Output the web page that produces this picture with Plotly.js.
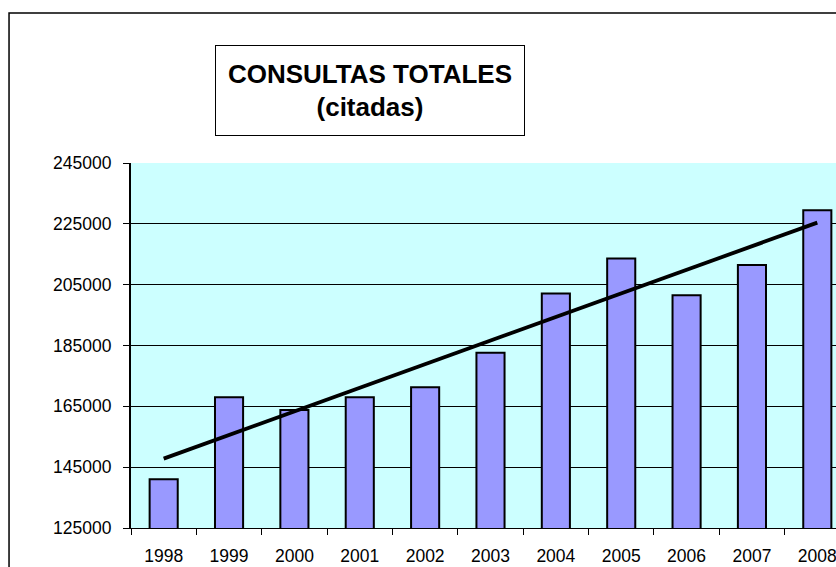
<!DOCTYPE html>
<html>
<head>
<meta charset="utf-8">
<script src="https://cdn.plot.ly/plotly-3.0.1.min.js"></script>
<style>
html,body{margin:0;padding:0;background:#fff;}
#chart{width:836px;height:567px;}
</style>
</head>
<body>
<div id="chart"></div>
<script>
const years = ["1998","1999","2000","2001","2002","2003","2004","2005","2006","2007","2008"];
const consultas = [141000,168000,163800,168000,171300,182600,202100,213600,201500,211500,229500];
const trendYears = ["1998","2008"];
const trendValues = [147800,225400];
const yTicks = [125000,145000,165000,185000,205000,225000,245000];
const titleText = "<b>CONSULTAS TOTALES<br>(citadas)</b>";

const FONT = "Liberation Sans, Arial, sans-serif";

const bars = {
  type: "bar",
  x: years,
  y: consultas,
  marker: {color: "#9999FF", line: {color: "#000000", width: 2}},
  hoverinfo: "x+y"
};
const trend = {
  type: "scatter",
  mode: "lines",
  x: trendYears,
  y: trendValues,
  line: {color: "#000000", width: 3.8},
  hoverinfo: "skip"
};

const layout = {
  width: 836,
  height: 567,
  margin: {l: 131, r: 0, t: 163, b: 39, pad: 0},
  paper_bgcolor: "#FFFFFF",
  plot_bgcolor: "#CCFFFF",
  showlegend: false,
  bargap: 0.57,
  font: {family: FONT, color: "#000000", size: 17.5},
  xaxis: {
    type: "category",
    range: [-0.5, 10.286],
    tickson: "boundaries",
    ticks: "outside",
    ticklen: 6,
    tickwidth: 1,
    tickcolor: "#000000",
    showline: true,
    linecolor: "#000000",
    linewidth: 1,
    showgrid: false,
    zeroline: false,
    ticklabelstandoff: 12,
    tickfont: {family: FONT, size: 17.5, color: "#000000"}
  },
  yaxis: {
    range: [125000, 245000],
    tickmode: "array",
    tickvals: yTicks,
    ticktext: yTicks.map(String),
    ticks: "outside",
    ticklen: 6,
    tickwidth: 1,
    tickcolor: "#000000",
    showline: true,
    linecolor: "#000000",
    linewidth: 2,
    showgrid: true,
    gridcolor: "#000000",
    gridwidth: 1,
    zeroline: false,
    ticklabelstandoff: 8,
    tickfont: {family: FONT, size: 17.5, color: "#000000"}
  },
  shapes: [{
    type: "rect", xref: "paper", yref: "paper",
    x0: -0.173, x1: 1.3, y0: -0.3, y1: 1.411,
    line: {color: "#000000", width: 1.5}, fillcolor: "rgba(0,0,0,0)", layer: "below"
  }],
  annotations: [{
    xref: "paper", yref: "paper",
    x: 0.339, y: 1.1986,
    xanchor: "center", yanchor: "middle",
    text: titleText,
    showarrow: false,
    align: "center",
    width: 306, height: 87,
    bgcolor: "#FFFFFF",
    bordercolor: "#000000",
    borderwidth: 1,
    borderpad: 1,
    font: {family: FONT, size: 26, color: "#000000"}
  }]
};

Plotly.newPlot("chart", [bars, trend], layout, {displayModeBar: false, responsive: false});
</script>
</body>
</html>
